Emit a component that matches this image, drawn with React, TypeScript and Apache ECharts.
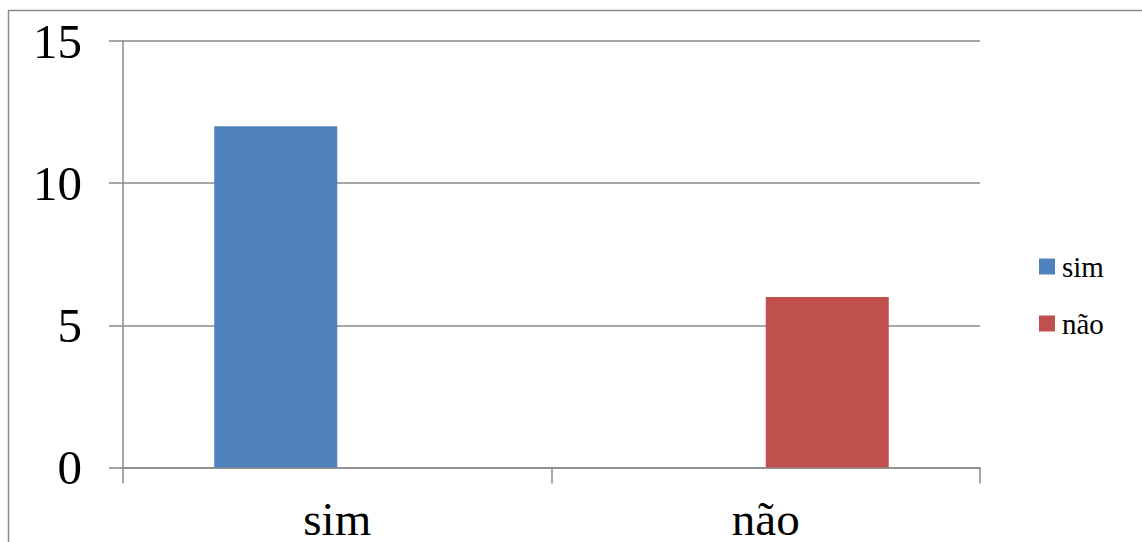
import React, { useEffect, useRef } from "react";
import * as echarts from "echarts";

const categories = ["sim", "não"];
const seriesNames = ["sim", "não"];
const simValues: (number | null)[] = [12, null];
const naoValues: (number | null)[] = [null, 6];
const yTicks = { min: 0, max: 15, interval: 5 };
const colors = ["#4F81BD", "#C0504D"];

export default function App() {
  const ref = useRef<HTMLDivElement>(null);

  useEffect(() => {
    if (!ref.current) return;
    const chart = echarts.init(ref.current, null, { renderer: "svg" });
    const gray = "#8a8a8a";
    chart.setOption({
      animation: false,
      backgroundColor: "#ffffff",
      textStyle: { fontFamily: "Liberation Serif", color: "#000" },
      graphic: [
        {
          type: "rect",
          shape: { x: 8.5, y: 10.5, width: 1300, height: 700 },
          style: { fill: "none", stroke: gray, lineWidth: 1.5 },
          silent: true,
        },
      ],
      grid: { left: 123, right: 162, top: 41, bottom: 73, containLabel: false },
      legend: {
        orient: "vertical",
        left: 1039,
        top: 252,
        padding: 0,
        icon: "rect",
        itemWidth: 16,
        itemHeight: 16,
        itemGap: 28,
        data: seriesNames,
        textStyle: { fontFamily: "Liberation Serif", fontSize: 29, color: "#000", padding: [0, 0, 0, 2] },
      },
      xAxis: {
        type: "category",
        data: categories,
        axisLine: { lineStyle: { color: gray, width: 1.5 } },
        axisTick: { show: true, length: 16, lineStyle: { color: gray, width: 1.5 } },
        axisLabel: {
          fontSize: 47,
          lineHeight: 40,
          color: "#000",
          margin: 31,
          fontFamily: "Liberation Serif",
        },
      },
      yAxis: {
        type: "value",
        min: yTicks.min,
        max: yTicks.max,
        interval: yTicks.interval,
        axisLine: { show: true, lineStyle: { color: gray, width: 1.5 } },
        axisTick: { show: true, length: 14, lineStyle: { color: gray, width: 1.5 } },
        splitLine: { lineStyle: { color: gray, width: 1.5 } },
        axisLabel: { fontSize: 49, color: "#000", margin: 41, fontFamily: "Liberation Serif" },
      },
      series: [
        {
          name: seriesNames[0],
          type: "bar",
          data: simValues,
          barWidth: 123,
          barGap: "0%",
          itemStyle: { color: colors[0] },
        },
        {
          name: seriesNames[1],
          type: "bar",
          data: naoValues,
          barWidth: 123,
          barGap: "0%",
          itemStyle: { color: colors[1] },
        },
      ],
    });
    return () => chart.dispose();
  }, []);

  return (
    <div
      ref={ref}
      style={{ position: "fixed", left: 0, top: 0, width: 1142, height: 542 }}
    />
  );
}
